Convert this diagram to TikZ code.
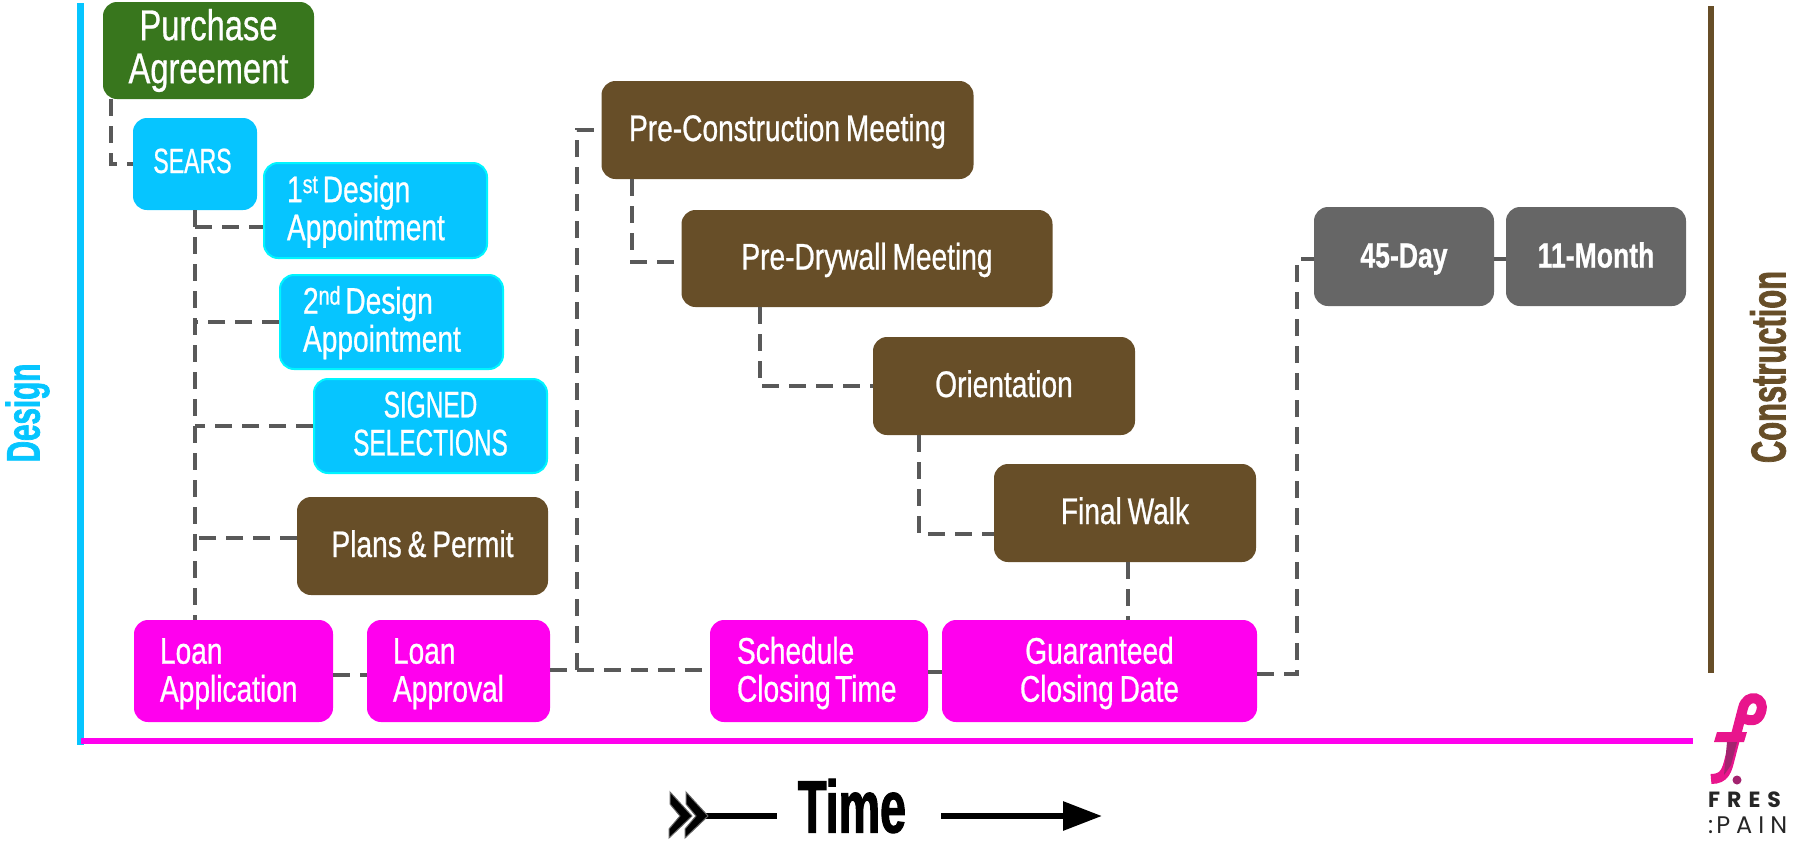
\documentclass[tikz,border=0pt]{standalone}
\usepackage{fontspec}
\usetikzlibrary{arrows.meta}
\setmainfont[FakeStretch=0.76,FakeBold=0.7,WordSpace=0.75]{Liberation Sans}
\newfontfamily\capsfont[FakeStretch=0.66,FakeBold=0.7]{Liberation Sans}
\newfontfamily\headfont[FakeStretch=0.63,FakeBold=1.5,UprightFont=* Bold]{Liberation Sans}
\newfontfamily\logofont{Poppins}
\newlength{\du}
\setlength{\du}{1pt}
\newcommand{\toppad}[1]{\rule{0pt}{#1}}
\newcommand{\botpad}[1]{\rule[-#1]{0pt}{#1}}
\definecolor{treegreen}{HTML}{38761D}
\definecolor{designblue}{HTML}{06C5FF}
\definecolor{designedge}{HTML}{00F5FF}
\definecolor{buildbrown}{HTML}{674E28}
\definecolor{loanpink}{HTML}{FF00EE}
\definecolor{warrantygray}{HTML}{666666}
\definecolor{dashgray}{HTML}{595959}
\definecolor{logopink}{HTML}{E8158C}
\definecolor{logodark}{HTML}{A3236F}
\tikzset{
  stagebox/.style={rectangle,rounded corners=14\du,inner sep=0pt,text=white,align=center,
    font=\fontsize{37}{38}\selectfont},
  leftbox/.style={stagebox,align=left},
  onebox/.style={stagebox,text height=27\du,text depth=5\du},
  dashline/.style={draw=dashgray,line width=3.5\du,dash pattern=on 17\du off 10\du},
  axisline/.style={line width=6.5\du},
  timeline/.style={line width=6\du,black},
}
\begin{document}
\begin{tikzpicture}
\pgftransformxscale{1.000000}
\pgftransformyscale{-1.000000}
\useasboundingbox (0\du,0\du) rectangle (1797\du,844\du);
% axes
\coordinate (designtop) at (80.5\du,3\du);
\coordinate (designend) at (80.5\du,745\du);
\coordinate (timeend) at (1693\du,741\du);
\coordinate (buildtop) at (1711\du,6\du);
\coordinate (buildend) at (1711\du,673\du);
\draw[axisline,designblue] (designtop)--(designend);
\draw[axisline,loanpink] (designend |- timeend)--(timeend);
\draw[axisline,buildbrown] (buildtop)--(buildend);
\node[text=designblue,rotate=90,font=\headfont\fontsize{47}{47}\selectfont] (designlabel) at (27.5\du,413\du){Design};
\node[text=buildbrown,rotate=90,font=\headfont\fontsize{49}{49}\selectfont] (buildlabel) at (1768\du,367\du){Construction};
% boxes
\node[stagebox,fill=treegreen,minimum width=211\du,minimum height=97\du,font=\fontsize{43}{43}\selectfont] (purchase) at (208.5\du,50.5\du){Purchase\\Agreement};
\node[onebox,fill=designblue,minimum width=124\du,minimum height=92\du,text depth=9\du,font=\capsfont\fontsize{35}{38}\selectfont] (sears) at (195\du,164\du){SEARS\hspace{5\du}};
\node[leftbox,fill=designblue,draw=designedge,line width=2\du,minimum width=223\du,minimum height=95\du,text width=177\du] (designa) at (375.5\du,210.5\du){\toppad{29\du}1\textsuperscript{st}\hspace{-8\du} Design\\Appointment};
\node[leftbox,fill=designblue,draw=designedge,line width=2\du,minimum width=223\du,minimum height=94\du,text width=177\du] (designb) at (391.5\du,322\du){\toppad{29\du}2\textsuperscript{nd}\hspace{-8\du} Design\\Appointment};
\node[stagebox,fill=designblue,draw=designedge,line width=2\du,minimum width=233\du,minimum height=94\du,font=\capsfont\fontsize{37}{38}\selectfont] (signed) at (430.5\du,426\du){SIGNED\\SELECTIONS\botpad{5\du}};
\node[onebox,fill=buildbrown,minimum width=251\du,minimum height=98\du] (plans) at (422.5\du,546\du){Plans \& Permit};
\node[leftbox,fill=loanpink,minimum width=199\du,minimum height=102\du,text width=147\du] (loanapp) at (233.5\du,671\du){\toppad{31\du}Loan\\Application};
\node[leftbox,fill=loanpink,minimum width=183\du,minimum height=102\du,text width=131\du] (loanok) at (458.5\du,671\du){\toppad{31\du}Loan\\Approval};
\node[leftbox,fill=loanpink,minimum width=218\du,minimum height=102\du,text width=164\du] (closetime) at (819\du,671\du){\toppad{31\du}Schedule\\\mbox{Closing\hspace{-8\du} Time}};
\node[stagebox,fill=loanpink,minimum width=315\du,minimum height=102\du] (closedate) at (1099.5\du,671\du){\toppad{31\du}Guaranteed\\Closing Date};
\node[onebox,fill=buildbrown,minimum width=372\du,minimum height=98\du] (precon) at (787.5\du,130\du){Pre-Construction Meeting};
\node[onebox,fill=buildbrown,minimum width=371\du,minimum height=97\du] (predry) at (867\du,258.5\du){Pre-Drywall Meeting};
\node[onebox,fill=buildbrown,minimum width=262\du,minimum height=98\du] (orient) at (1004\du,386\du){Orientation};
\node[onebox,fill=buildbrown,minimum width=262\du,minimum height=98\du] (walk) at (1125\du,513\du){Final Walk};
\node[onebox,fill=warrantygray,minimum width=180\du,minimum height=99\du,font=\bfseries\fontsize{35}{38}\selectfont] (dayten) at (1404\du,256.5\du){45-Day};
\node[onebox,fill=warrantygray,minimum width=180\du,minimum height=99\du,font=\bfseries\fontsize{35}{38}\selectfont] (monthten) at (1596\du,256.5\du){11-Month};
% elbows
\coordinate (purchasefoot) at (111\du,99\du);
\coordinate (designafoot) at (195\du,227\du);
\coordinate (plansfoot) at (195\du,538\du);
\coordinate (plansside) at (297\du,538\du);
\coordinate (loanfoot) at (195\du,620\du);
\coordinate (loanmid) at (333\du,675\du);
\coordinate (loanokmid) at (367\du,675\du);
\coordinate (approvalmid) at (550\du,670\du);
\coordinate (closemid) at (710\du,670\du);
\coordinate (trunk) at (577\du,670\du);
\coordinate (preconfoot) at (632\du,179\du);
\coordinate (predryside) at (682\du,262\du);
\coordinate (predryfoot) at (760\du,307\du);
\coordinate (orientfoot) at (919\du,435\du);
\coordinate (walkside) at (994\du,534\du);
\coordinate (walkfoot) at (1128\du,562\du);
\coordinate (datetop) at (1128\du,620\du);
\coordinate (timemid) at (928\du,672\du);
\coordinate (datemid) at (942\du,672\du);
\coordinate (dateout) at (1257\du,674\du);
\coordinate (riser) at (1297\du,259\du);
\coordinate (dayside) at (1314\du,259\du);
\coordinate (dayout) at (1494\du,259\du);
\coordinate (monthside) at (1506\du,259\du);
% connectors
\draw[dashline] (purchasefoot) |- (sears.west);
\draw[dashline] (sears.south) -- (loanfoot);
\draw[dashline] (designafoot) -- (designafoot -| designa.west);
\draw[dashline] (designb.west) -- (designb.west -| sears.south);
\draw[dashline] (signed.west) -- (signed.west -| sears.south);
\draw[dashline] (plansside) -- (plansfoot);
\draw[dashline] (loanmid) -- (loanokmid);
\draw[dashline] (approvalmid) -- (closemid);
\draw[dashline] (trunk) |- (precon.west);
\draw[dashline] (preconfoot) |- (predryside);
\draw[dashline] (predryfoot) |- (orient.west);
\draw[dashline] (orientfoot) |- (walkside);
\draw[dashline] (walkfoot) -- (datetop);
\draw[dashline] (timemid) -- (datemid);
\draw[dashline] (dateout) -| (riser) -- (dayside);
\draw[dashline] (dayout) -- (monthside);
% time
\node[font=\headfont\fontsize{74}{74}\selectfont] (timelabel) at (852\du,806\du){Time};
\coordinate (tailstart) at (700\du,816\du);
\coordinate (tailend) at (777\du,816\du);
\coordinate (headstart) at (941\du,816\du);
\coordinate (headend) at (1102\du,816\du);
\draw[timeline] (tailstart)--(tailend);
\draw[timeline,-{Triangle[length=39pt,width=28pt]}] (headstart)--(headend);
\draw[fill=black,draw=warrantygray,line width=1\du] (670\du,792\du)--(692\du,816\du)--(669\du,838\du)--(669\du,829\du)--(680\du,816\du)--(670\du,804\du)--cycle;
\draw[fill=black,draw=warrantygray,line width=1\du] (686\du,792\du)--(708\du,816\du)--(685\du,838\du)--(685\du,829\du)--(696\du,816\du)--(686\du,804\du)--cycle;
% logo
\draw[logopink,line width=10\du] (1711\du,779\du) .. controls (1725\du,779\du) and (1727\du,770\du) .. (1730\du,758\du) -- (1743\du,708\du) .. controls (1747\du,692\du) and (1766\du,697\du) .. (1761\du,712\du) .. controls (1758\du,722\du) and (1750\du,721\du) .. (1745\du,719\du);
\fill[logopink] (1717\du,732\du)--(1747\du,732\du)--(1744\du,742\du)--(1714\du,742\du)--cycle;
\fill[logodark] (1727\du,742\du)--(1737\du,742\du)--(1731\du,765\du)--(1724\du,775\du)--cycle;
\fill[logodark] (1737\du,780\du) circle (4.5\du);
\node[anchor=west,inner sep=0pt,text=black!85,font=\logofont\bfseries\fontsize{22}{22}\selectfont] (logotop) at (1708\du,800\du){F\kern7\du R\kern7\du E\kern7\du S};
\node[anchor=west,inner sep=0pt,text=black!85,font=\logofont\fontsize{24}{24}\selectfont] (logobottom) at (1708\du,825\du){:\kern3\du P\kern6\du A\kern6\du I\kern6\du N};
\end{tikzpicture}
\end{document}
